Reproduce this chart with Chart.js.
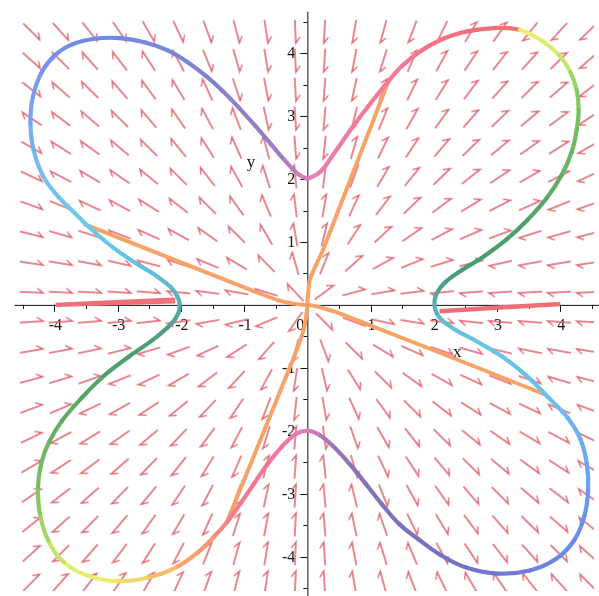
<!DOCTYPE html>
<html>
<head>
<meta charset="utf-8">
<script src="https://cdn.jsdelivr.net/npm/chart.js@4/dist/chart.umd.min.js"></script>
<style>
  html, body { margin: 0; padding: 0; background: #ffffff; }
  #wrap { width: 599px; height: 596px; position: relative; }
</style>
</head>
<body>
<div id="wrap"><canvas id="phase"></canvas></div>
<script>
// Limit cycle, traced clockwise starting at (0, 2)
const cycleX = [0.00, 0.20, 0.41, 0.68, 0.95, 1.22, 1.50, 1.80, 2.15, 2.55, 2.95, 3.36, 3.72, 3.98, 4.16, 4.26, 4.29, 4.26, 4.18, 4.02, 3.78, 3.48, 3.15, 2.79, 2.44, 2.17, 2.04, 2.01,
  2.08, 2.30, 2.66, 3.08, 3.46, 3.80, 4.12, 4.32, 4.42, 4.44, 4.38, 4.22, 3.93, 3.52, 3.00, 2.50, 2.10, 1.75, 1.45, 1.18, 0.92, 0.66, 0.40, 0.18,
  0.00, -0.18, -0.40, -0.63, -0.85, -1.06, -1.27, -1.48, -1.74, -2.09, -2.55, -3.02, -3.45, -3.85, -4.10, -4.23, -4.26, -4.21, -4.08, -3.88, -3.58, -3.22, -2.82, -2.45, -2.15, -2.04,
  -2.02, -2.06, -2.16, -2.40, -2.71, -3.07, -3.38, -3.66, -3.94, -4.18, -4.33, -4.38, -4.34, -4.20, -3.99, -3.72, -3.36, -2.97, -2.56, -2.20, -1.90, -1.62, -1.34, -1.07, -0.82, -0.58, -0.36, -0.16, 0.00];
const cycleY = [2.00, 2.11, 2.39, 2.78, 3.14, 3.48, 3.80, 4.04, 4.23, 4.35, 4.40, 4.37, 4.19, 3.97, 3.70, 3.41, 3.10, 2.79, 2.43, 2.06, 1.69, 1.35, 1.04, 0.77, 0.55, 0.35, 0.17, 0.00,
  -0.19, -0.37, -0.57, -0.82, -1.12, -1.46, -1.80, -2.14, -2.53, -2.94, -3.36, -3.74, -4.04, -4.22, -4.27, -4.17, -3.97, -3.72, -3.48, -3.17, -2.84, -2.52, -2.24, -2.06,
  -2.00, -2.05, -2.25, -2.53, -2.85, -3.16, -3.45, -3.69, -3.94, -4.18, -4.34, -4.39, -4.31, -4.09, -3.74, -3.32, -2.90, -2.52, -2.17, -1.84, -1.49, -1.13, -0.82, -0.56, -0.30, -0.13,
  0.01, 0.14, 0.28, 0.47, 0.66, 0.91, 1.17, 1.44, 1.72, 2.05, 2.46, 2.89, 3.31, 3.70, 3.97, 4.14, 4.23, 4.24, 4.17, 4.04, 3.86, 3.65, 3.40, 3.12, 2.84, 2.56, 2.30, 2.09, 2.00];

// Trajectories leaving the origin
const neX = [0.00, 0.04, 0.14, 0.25, 1.28];
const neY = [0.05, 0.40, 0.64, 0.88, 3.55];
const nwX = [-0.03, -0.22, -0.45, -0.80, -3.52];
const nwY = [0.00, 0.02, 0.07, 0.20, 1.28];
const seX = [0.03, 0.20, 0.50, 3.75];
const seY = [0.00, -0.04, -0.13, -1.42];
const swX = [0.00, -0.06, -0.20, -1.28];
const swY = [-0.04, -0.40, -0.80, -3.47];

// Trajectories arriving from the x-axis ends
const westLowX = [-3.98, -2.09];
const westLowY = [-0.01, 0.045];
const westHighX = [-3.98, -2.09];
const westHighY = [0.01, 0.095];
const eastX = [2.09, 4.00];
const eastY = [-0.10, 0.015];

// Direction-field sample grid
const gridX = [-4.36, -3.90, -3.44, -2.97, -2.51, -2.04, -1.58, -1.12, -0.65, -0.19, 0.27, 0.74, 1.20, 1.66, 2.13, 2.59, 3.05, 3.52, 3.98, 4.44];
const gridY = [4.34, 3.88, 3.42, 2.96, 2.50, 2.04, 1.58, 1.12, 0.66, 0.20, -0.27, -0.73, -1.19, -1.65, -2.11, -2.57, -3.03, -3.49, -3.95, -4.41];

// Axis ticks
const xTickLabels = [-4, -3, -2, -1, 0, 1, 2, 3, 4];
const yTickLabels = [-4, -3, -2, -1, 1, 2, 3, 4];
const majorTicks = [-4, -3, -2, -1, 1, 2, 3, 4];
const minorTicks = [-4.5, -3.5, -2.5, -1.5, -0.5, 0.5, 1.5, 2.5, 3.5, 4.5];

// Visible window
const X_MIN = -4.782, X_MAX = 4.533, Y_MIN = -4.547, Y_MAX = 4.766;
const AXIS_X_START = -4.63, AXIS_Y_TOP = 4.66;

// Colour of the cycle by polar angle (degrees)
const hueStops = [
  [-180, '#58aab0'], [-172, '#50a088'], [-164, '#4e9c70'], [-157, '#5ca868'], [-152, '#6cb462'], [-146, '#78c060'],
  [-142, '#90cc62'], [-138, '#b4dc68'], [-133, '#d8ec70'], [-128, '#eef070'], [-124, '#f0e070'], [-120, '#f4c868'],
  [-116, '#f7a868'], [-113, '#f6986e'], [-110, '#f47c8a'], [-106, '#f27498'], [-100, '#f07aa8'], [-90, '#e07cb4'],
  [-82, '#a076b8'], [-73, '#8472b8'], [-68, '#7c72bc'], [-62, '#7472c0'], [-55, '#7078d0'], [-50, '#6c80e0'],
  [-41, '#6a8cee'], [-33, '#6c9cf0'], [-26, '#6cb0f0'], [-21, '#6ac0ee'], [-12, '#66c6e4'], [-5, '#60b8c8'],
  [0, '#58aab0'], [5, '#52a49a'], [13, '#489a78'], [18, '#4c9c6c'], [24, '#5aa868'], [30, '#6cb862'], [36, '#78c460'],
  [40, '#98d466'], [44, '#d0e870'], [50, '#eef070'], [52, '#f0e070'], [53.5, '#f27070'], [57, '#f06c78'],
  [64, '#f27288'], [70, '#f57898'], [80, '#f07aa8'], [90, '#e880b4'], [94, '#c47cbc'], [101, '#a07cc4'],
  [108, '#9080c8'], [114, '#8080d0'], [121, '#7a86e0'], [129, '#7088e8'], [138, '#7894f0'], [147, '#78a8f0'],
  [154, '#78c0f0'], [160, '#6cc8ee'], [166, '#60c4e0'], [180, '#58aab0']
];

function hexRgb(h) {
  return [parseInt(h.slice(1, 3), 16), parseInt(h.slice(3, 5), 16), parseInt(h.slice(5, 7), 16)];
}
function colourAtAngle(deg) {
  for (let i = 1; i < hueStops.length; i++) {
    const [a1, c1] = hueStops[i];
    if (deg <= a1) {
      const [a0, c0] = hueStops[i - 1];
      const t = a1 === a0 ? 0 : (deg - a0) / (a1 - a0);
      const p = hexRgb(c0), q = hexRgb(c1);
      const m = p.map((v, k) => Math.round(v + (q[k] - v) * t));
      return `rgb(${m[0]},${m[1]},${m[2]})`;
    }
  }
  return hueStops[hueStops.length - 1][1];
}
function cycleSegmentColour(ctx) {
  const i = ctx.p0DataIndex, j = ctx.p1DataIndex;
  const mx = (cycleX[i] + cycleX[j]) / 2, my = (cycleY[i] + cycleY[j]) / 2;
  return colourAtAngle(Math.atan2(my, mx) * 180 / Math.PI);
}

const pts = (xs, ys) => xs.map((x, i) => ({ x: x, y: ys[i] }));

// Inside the cycle the field points away from the origin, outside it points back toward it
function insideCycle(x, y) {
  let inside = false;
  for (let i = 0, j = cycleX.length - 1; i < cycleX.length; j = i++) {
    const xi = cycleX[i], yi = cycleY[i], xj = cycleX[j], yj = cycleY[j];
    if ((yi > y) !== (yj > y) && x < (xj - xi) * (y - yi) / (yj - yi) + xi) inside = !inside;
  }
  return inside;
}

const fieldPts = [];
const fieldTurn = [];
gridY.forEach(y => gridX.forEach(x => {
  fieldPts.push({ x: x, y: y });
  let ang = Math.atan2(y, x) * 180 / Math.PI;
  if (!insideCycle(x, y)) ang += 180;
  fieldTurn.push(-ang);
}));

// Half-headed arrow glyph pointing along +x
function harpoon() {
  const c = document.createElement('canvas');
  c.width = 32; c.height = 32;
  const g = c.getContext('2d');
  g.strokeStyle = 'rgb(226, 96, 108)';
  g.lineWidth = 1.35;
  g.lineCap = 'round';
  g.lineJoin = 'miter';
  g.beginPath();
  g.moveTo(4.5, 16);
  g.lineTo(27.5, 16);
  g.lineTo(21.8, 12.0);
  g.stroke();
  return c;
}

const axesPlugin = {
  id: 'crossAxes',
  beforeDatasetsDraw(chart) {
    const { ctx, scales: { x: xs, y: ys } } = chart;
    const ox = xs.getPixelForValue(0), oy = ys.getPixelForValue(0);
    ctx.save();
    ctx.strokeStyle = '#111';
    ctx.lineWidth = 1;
    ctx.beginPath();
    ctx.moveTo(xs.getPixelForValue(AXIS_X_START), oy + 0.5);
    ctx.lineTo(chart.width, oy + 0.5);
    ctx.moveTo(ox + 0.5, ys.getPixelForValue(AXIS_Y_TOP));
    ctx.lineTo(ox + 0.5, chart.height);
    majorTicks.forEach(v => {
      const px = Math.round(xs.getPixelForValue(v)) + 0.5;
      ctx.moveTo(px, oy); ctx.lineTo(px, oy + 7);
      const py = Math.round(ys.getPixelForValue(v)) + 0.5;
      ctx.moveTo(ox, py); ctx.lineTo(ox - 7, py);
    });
    minorTicks.forEach(v => {
      const px = Math.round(xs.getPixelForValue(v)) + 0.5;
      ctx.moveTo(px, oy); ctx.lineTo(px, oy + 4);
      const py = Math.round(ys.getPixelForValue(v)) + 0.5;
      ctx.moveTo(ox, py); ctx.lineTo(ox - 4, py);
    });
    ctx.stroke();

    ctx.fillStyle = '#111';
    ctx.font = '16px "Liberation Serif", "DejaVu Serif", serif';
    ctx.textBaseline = 'middle';
    ctx.textAlign = 'center';
    xTickLabels.forEach(v => {
      const px = v === 0 ? ox - 7 : xs.getPixelForValue(v) + 1;
      ctx.fillText(String(v), px, oy + 21);
    });
    ctx.textAlign = 'right';
    yTickLabels.forEach(v => {
      ctx.fillText(String(v), ox - 12, ys.getPixelForValue(v) + 1);
    });
    ctx.textAlign = 'center';
    ctx.font = '17px "Liberation Serif", "DejaVu Serif", serif';
    ctx.fillText('x', xs.getPixelForValue(2.37), ys.getPixelForValue(-0.76));
    ctx.fillText('y', xs.getPixelForValue(-0.89), ys.getPixelForValue(2.26));
    ctx.restore();
  }
};

const orange = '#f7a266';
const red = '#f06e78';
const pathStyle = (colour, order, width) => ({
  showLine: true, borderColor: colour, borderWidth: width || 4, pointRadius: 0,
  tension: 0.3, borderCapStyle: 'round', borderJoinStyle: 'round', order: order
});

new Chart(document.getElementById('phase'), {
  type: 'scatter',
  data: {
    datasets: [
      Object.assign({ data: pts(cycleX, cycleY), segment: { borderColor: cycleSegmentColour } }, pathStyle('#e880b4', 0, 4.2), { tension: 0.4 }),
      Object.assign({ data: pts(neX, neY) }, pathStyle(orange, 1)),
      Object.assign({ data: pts(nwX, nwY) }, pathStyle(orange, 1)),
      Object.assign({ data: pts(seX, seY) }, pathStyle(orange, 1)),
      Object.assign({ data: pts(swX, swY) }, pathStyle(orange, 1)),
      Object.assign({ data: pts(westLowX, westLowY) }, pathStyle(red, 2, 3), { borderCapStyle: 'butt' }),
      Object.assign({ data: pts(westHighX, westHighY) }, pathStyle(red, 2, 3), { borderCapStyle: 'butt' }),
      Object.assign({ data: pts(eastX, eastY) }, pathStyle(red, 2, 4.5), { borderCapStyle: 'butt' }),
      {
        data: fieldPts, showLine: false, pointStyle: harpoon(), pointRadius: 3,
        pointRotation: c => fieldTurn[c.dataIndex], order: 5
      }
    ]
  },
  options: {
    responsive: true,
    maintainAspectRatio: false,
    animation: false,
    events: [],
    layout: { padding: 0 },
    plugins: { legend: { display: false }, tooltip: { enabled: false } },
    scales: {
      x: { type: 'linear', min: X_MIN, max: X_MAX, display: false },
      y: { type: 'linear', min: Y_MIN, max: Y_MAX, display: false }
    }
  },
  plugins: [axesPlugin]
});
</script>
</body>
</html>
